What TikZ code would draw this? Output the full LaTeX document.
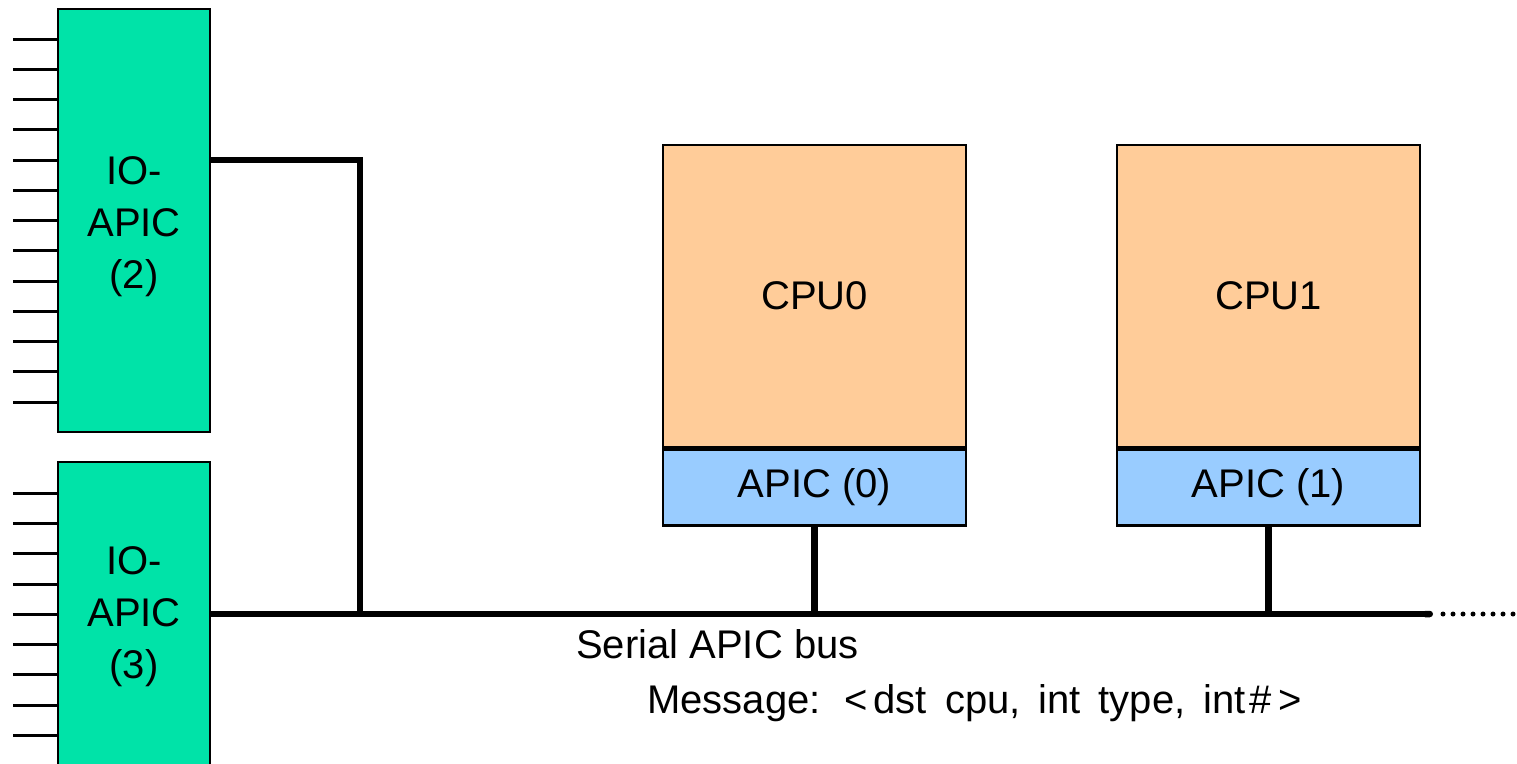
\documentclass[tikz,border=0pt]{standalone}
\usepackage{fontspec}
\setmainfont{Liberation Sans}
\usetikzlibrary{arrows.meta}
\begin{document}
\begin{tikzpicture}[x=1pt,y=-1pt,
  every node/.style={font=\fontsize{40}{52}\selectfont},
  ioapic/.style={draw=black, line width=2.5pt, fill=ioGreen, minimum width=152pt,
                 inner sep=0pt},
  iotext/.style={align=center, inner sep=0pt},
  cpubox/.style={draw=black, line width=2.5pt, fill=cpuOrange, minimum width=303pt,
                 minimum height=302pt, inner sep=0pt},
  apicbox/.style={draw=black, line width=2.5pt, fill=apicBlue, minimum width=303pt,
                  minimum height=76pt, inner sep=0pt},
  pinline/.style={line width=3pt},
  busline/.style={line width=6.5pt},
  label/.style={inner sep=0pt, anchor=base west}]
\definecolor{ioGreen}{HTML}{00E3A8}
\definecolor{cpuOrange}{HTML}{FFCC99}
\definecolor{apicBlue}{HTML}{99CCFF}
\useasboundingbox (0,0) rectangle (1517,763);
\begin{scope}
\clip (0,0) rectangle (1517,763);

% interrupt input pins
\foreach \k in {0,...,12} \draw[pinline] (13,39.3+30.23*\k) -- (58,39.3+30.23*\k);
\foreach \k in {0,...,8}  \draw[pinline] (13,493.3+30.25*\k) -- (58,493.3+30.25*\k);

% I/O APICs
\node[ioapic, minimum height=423pt] (ioa) at (134,220.5) {};
\node[iotext] (ioatext) at ([yshift=-6pt]ioa.center) {IO-\\APIC\\(2)};
\node[ioapic, minimum height=304pt] (iob) at (134,614) {};
\node[iotext] (iobtext) at ([yshift=-3pt]iob.center) {IO-\\APIC\\(3)};

% processors with their local APICs
\node[cpubox] (cpu0) at (814.5,296) {CPU0};
\node[apicbox, anchor=north] (apic0) at (cpu0.south) {APIC (0)};
\node[cpubox] (cpu1) at (1268.5,296) {CPU1};
\node[apicbox, anchor=north] (apic1) at (cpu1.south) {APIC (1)};

% serial APIC bus
\coordinate (tap) at (360,614);
\coordinate (busend) at (1433,614);
\coordinate (busfar) at (1520,614);
\draw[busline, -{Round Cap[]}] (iob.east) -- (busend);
\draw[line width=5pt, line cap=round, dash pattern=on 0pt off 10pt]
  ([xshift=10pt]busend) -- (busfar);
\draw[line width=5.5pt] ([yshift=60.5pt]ioa.east) -| (tap);
\draw[busline] (apic0.south) -- (apic0.south |- tap);
\draw[busline] (apic1.south) -- (apic1.south |- tap);

% bus caption
\node[label] (buslbl) at (576,658) {Serial APIC bus};
\node[label] (msglbl) at (647,713) {\spaceskip=18pt Message:
  \kern2pt<\kern6pt dst cpu, int type, int\kern4pt\#\kern6pt>};
\end{scope}
\end{tikzpicture}
\end{document}
